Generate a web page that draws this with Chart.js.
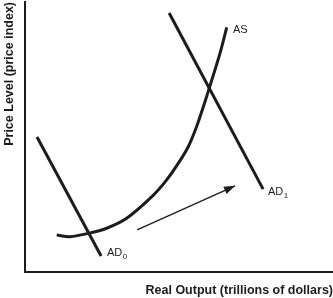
<!DOCTYPE html>
<html>
<head>
<meta charset="utf-8">
<script src="https://cdn.jsdelivr.net/npm/chart.js@4.4.1/dist/chart.umd.min.js"></script>
<style>
  html, body { margin: 0; padding: 0; background: #fff; }
  #chart { display: block; }
</style>
</head>
<body>
<canvas id="chart" width="333" height="298"></canvas>
<script>
// Curve values (real output on x, price level on y, both 0-100)
const ad0Output = [3.9, 24.7];
const ad0Price = [50.0, 5.9];
const ad1Output = [46.8, 77.3];
const ad1Price = [95.9, 30.7];
const asOutput = [10.3, 14.6, 20.6, 26.5, 33.0, 41.7, 46.0, 49.8, 53.0, 55.7, 57.9, 59.8, 63.3, 65.5];
const asPrice = [13.7, 13.1, 14.3, 16.2, 19.9, 28.5, 34.1, 40.3, 46.4, 53.8, 61.2, 68.0, 81.0, 90.6];
const shiftOutput = [36.4, 68.2];
const shiftPrice = [15.6, 31.9];

// Curve labels
const labelText = ['AS', 'AD', 'AD'];
const labelSub = ['', '1', '0'];
const labelOutput = [67.5, 78.9, 26.6];
const labelPrice = [89.6, 29.6, 7.0];

const ink = '#1c1c1c';

const toPoints = (xs, ys) => xs.map((x, i) => ({ x: x, y: ys[i] }));

// Draw the curve names and the arrow head
const annotate = {
    id: 'annotate',
    afterDatasetsDraw(chart) {
        const ctx = chart.ctx;
        const xs = chart.scales.x;
        const ys = chart.scales.y;
        ctx.save();
        ctx.fillStyle = ink;
        ctx.textBaseline = 'middle';
        ctx.textAlign = 'left';
        labelText.forEach((t, i) => {
            const px = xs.getPixelForValue(labelOutput[i]);
            const py = ys.getPixelForValue(labelPrice[i]);
            ctx.font = '11px "Liberation Sans", Arial, sans-serif';
            ctx.fillText(t, px, py);
            if (labelSub[i]) {
                const w = ctx.measureText(t).width;
                ctx.font = '8px "Liberation Sans", Arial, sans-serif';
                ctx.fillText(labelSub[i], px + w + 0.5, py + 4);
            }
        });

        const meta = chart.getDatasetMeta(3);
        const a = meta.data[0], b = meta.data[1];
        const ang = Math.atan2(b.y - a.y, b.x - a.x);
        const len = 11, half = 4;
        ctx.beginPath();
        ctx.moveTo(b.x, b.y);
        ctx.lineTo(b.x - len * Math.cos(ang) + half * Math.sin(ang), b.y - len * Math.sin(ang) - half * Math.cos(ang));
        ctx.lineTo(b.x - len * Math.cos(ang) - half * Math.sin(ang), b.y - len * Math.sin(ang) + half * Math.cos(ang));
        ctx.closePath();
        ctx.fill();
        ctx.restore();
    }
};

const titleFont = { family: '"Liberation Sans", Arial, sans-serif', size: 12.5, weight: 'bold' };

new Chart(document.getElementById('chart'), {
    type: 'scatter',
    data: {
        datasets: [
            { label: 'AD0', data: toPoints(ad0Output, ad0Price), borderWidth: 3 },
            { label: 'AD1', data: toPoints(ad1Output, ad1Price), borderWidth: 3 },
            { label: 'AS', data: toPoints(asOutput, asPrice), borderWidth: 3, tension: 0.3 },
            { label: 'shift', data: toPoints(shiftOutput, shiftPrice), borderWidth: 1.3 }
        ].map(d => Object.assign({
            showLine: true,
            pointRadius: 0,
            borderColor: ink,
            backgroundColor: ink,
            borderCapStyle: 'butt'
        }, d))
    },
    options: {
        responsive: false,
        animation: false,
        layout: { padding: { top: 2, right: 0, bottom: 0, left: 0 } },
        plugins: {
            legend: { display: false },
            tooltip: { enabled: false }
        },
        scales: {
            x: {
                min: 0,
                max: 100,
                ticks: { display: false },
                grid: { display: false, drawTicks: false },
                border: { display: true, width: 2, color: ink },
                title: {
                    display: true,
                    text: 'Real Output (trillions of dollars)',
                    align: 'end',
                    color: ink,
                    font: titleFont,
                    padding: { top: 11, bottom: 0 }
                }
            },
            y: {
                min: 0,
                max: 100,
                ticks: { display: false },
                grid: { display: false, drawTicks: false },
                border: { display: true, width: 2, color: ink },
                title: {
                    display: true,
                    text: 'Price Level (price index)',
                    align: 'end',
                    color: ink,
                    font: titleFont,
                    padding: { top: 2, bottom: 8 }
                }
            }
        }
    },
    plugins: [annotate]
});
</script>
</body>
</html>
